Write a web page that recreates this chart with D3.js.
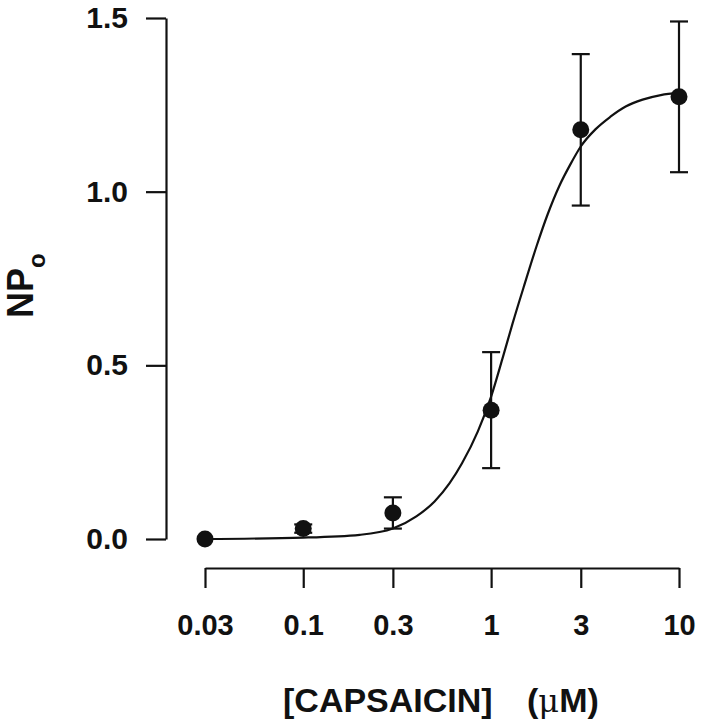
<!DOCTYPE html>
<html>
<head>
  <meta charset="utf-8">
  <style>
    body {
      margin: 0;
      background: #fff;
    }
    text {
      font-family: "Liberation Sans", Arial, sans-serif;
      font-weight: bold;
      fill: #111;
    }
  </style>
</head>
<body>
<script src="https://d3js.org/d3.v7.min.js"></script>
<script>

// capsaicin concentrations (uM) and mean NPo with error
var conc = [0.03, 0.1, 0.3, 1, 3, 10];
var npo = [0.0, 0.03, 0.075, 0.371, 1.178, 1.273];
var err = [0, 0.012, 0.045, 0.167, 0.218, 0.217];

// fitted curve
var fitConc = [0.03, 0.1, 0.2, 0.3, 0.4, 0.5, 0.6, 0.7, 0.85, 1.0, 1.15, 1.3, 1.5, 1.75, 2.0, 2.3, 2.65, 3, 3.6, 4.3, 5.2, 6.4, 8, 10];
var fitNpo  = [0.0, 0.004, 0.012, 0.03, 0.065, 0.108, 0.16, 0.218, 0.31, 0.41, 0.52, 0.62, 0.73, 0.845, 0.935, 1.015, 1.08, 1.13, 1.18, 1.215, 1.245, 1.265, 1.278, 1.285];

var xTicks = [0.03, 0.1, 0.3, 1, 3, 10];
var xTickLabels = ["0.03", "0.1", "0.3", "1", "3", "10"];
var yTicks = [0, 0.5, 1.0, 1.5];

var svg = d3.select("body").append("svg")
            .attr("width", 701)
            .attr("height", 720);

var x = d3.scaleLog().domain([0.03, 10]).range([205, 679]);
var y = d3.scaleLinear().domain([0, 1.5]).range([539, 18]);

// axes
var yAxis = d3.axisLeft(y)
              .tickValues(yTicks)
              .tickSize(20)
              .tickSizeOuter(0)
              .tickPadding(18)
              .tickFormat(d3.format(".1f"));
var gy = svg.append("g").attr("transform", "translate(166,0)").call(yAxis);

var xAxis = d3.axisBottom(x)
              .tickValues(xTicks)
              .tickSize(20)
              .tickSizeOuter(0)
              .tickPadding(26)
              .tickFormat(function(d, i) { return xTickLabels[i]; });
var gx = svg.append("g").attr("transform", "translate(0,568)").call(xAxis);

[gx, gy].forEach(function(g) {
  g.selectAll("path, line").attr("stroke", "#111").attr("stroke-width", 2.2);
  g.selectAll("text").attr("fill", "#111").attr("font-family", null);
});
gy.selectAll("text").style("font-size", "30px");
gx.selectAll("text").style("font-size", "29px");

// fitted line
var line = d3.line()
             .x(function(d) { return x(d[0]); })
             .y(function(d) { return y(d[1]); })
             .curve(d3.curveMonotoneX);
svg.append("path")
   .attr("d", line(d3.zip(fitConc, fitNpo)))
   .attr("fill", "none")
   .attr("stroke", "#111")
   .attr("stroke-width", 2.2);

// error bars
var pts = d3.zip(conc, npo, err);
var eb = svg.append("g").attr("stroke", "#111").attr("stroke-width", 2.2);
pts.forEach(function(p) {
  if (p[2] <= 0) return;
  var cx = x(p[0]);
  eb.append("line").attr("x1", cx).attr("x2", cx).attr("y1", y(p[1] - p[2])).attr("y2", y(p[1] + p[2]));
  eb.append("line").attr("x1", cx - 9).attr("x2", cx + 9).attr("y1", y(p[1] + p[2])).attr("y2", y(p[1] + p[2]));
  eb.append("line").attr("x1", cx - 9).attr("x2", cx + 9).attr("y1", y(p[1] - p[2])).attr("y2", y(p[1] - p[2]));
});

// points
svg.append("g").selectAll("circle")
   .data(pts)
   .enter().append("circle")
   .attr("cx", function(d) { return x(d[0]); })
   .attr("cy", function(d) { return y(d[1]); })
   .attr("r", 8.5)
   .attr("fill", "#111");

// axis titles
var xt = svg.append("text")
   .attr("x", 283)
   .attr("y", 712)
   .style("font-size", "34px");
xt.append("tspan").text("[CAPSAICIN]");
xt.append("tspan").attr("x", 527).text("(");
xt.append("tspan").style("font-weight", "normal").attr("font-family", "DejaVu Serif").style("font-size", "32px").text("\u03bc");
xt.append("tspan").text("M)");

var yt = svg.append("text")
   .attr("transform", "translate(33,318) rotate(-90)")
   .style("font-size", "36px");
yt.append("tspan").text("NP");
yt.append("tspan").attr("dy", 12).style("font-size", "24px").text("o");

</script>
</body>
</html>
